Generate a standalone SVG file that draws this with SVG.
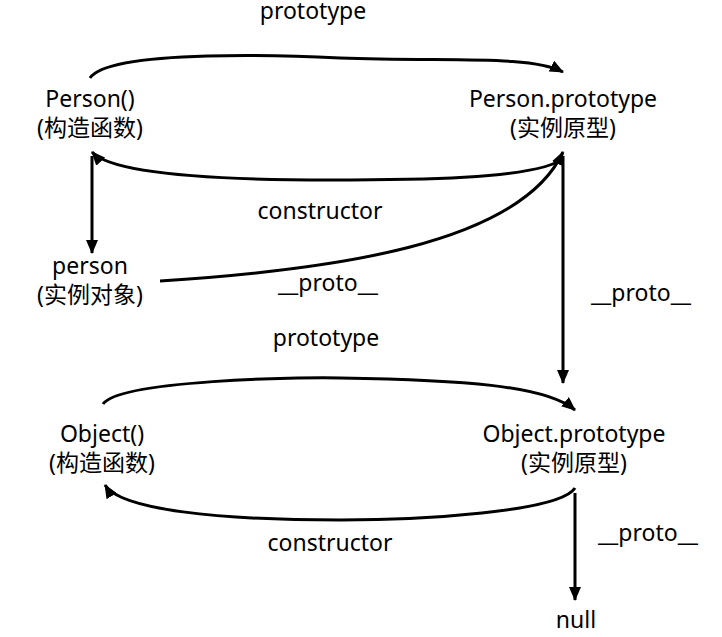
<svg xmlns="http://www.w3.org/2000/svg" width="722" height="637" viewBox="0 0 722 637">
<style>
text{font-family:"Noto Sans","Noto Sans CJK SC",sans-serif;font-size:23px;fill:#000;text-anchor:middle}
.c{fill:none;stroke:#000;stroke-width:3}
</style>
<defs>
<marker id="ah" markerWidth="14" markerHeight="12" viewBox="0 0 14 12" refX="13" refY="6" orient="auto" markerUnits="userSpaceOnUse">
<path d="M0,0 L14,6 L0,12 z" fill="#000"/>
</marker>
</defs>
<rect width="722" height="637" fill="#fff"/>
<g id="connectors">
<path class="c" d="M90,78 C110,48 300,56 340,58 C450,62 530,55 563,72" marker-end="url(#ah)"/>
<path class="c" d="M563,158 C540,180 400,180 330,180 C200,180 110,172 92,152" marker-end="url(#ah)"/>
<path class="c" d="M92,156 L92,253" marker-end="url(#ah)"/>
<path class="c" d="M160,281 C330,270 520,245 563,152" marker-end="url(#ah)"/>
<path class="c" d="M563,156 L563,383" marker-end="url(#ah)"/>
<path class="c" d="M103,404 C120,380 300,377 340,378 C460,380 545,385 575,410" marker-end="url(#ah)"/>
<path class="c" d="M575,488 C560,512 420,520 340,520 C220,520 120,510 105,485" marker-end="url(#ah)"/>
<path class="c" d="M575,493 L575,600" marker-end="url(#ah)"/>
</g>
<g id="labels">
<text x="313" y="19">prototype</text>
<text x="320" y="219">constructor</text>
<text x="328" y="291">__proto__</text>
<text x="641" y="301">__proto__</text>
<text x="326" y="346">prototype</text>
<text x="330" y="551">constructor</text>
<text x="648" y="541">__proto__</text>
</g>
<g id="person-fn"><text x="90" y="107">Person()</text><text x="90" y="136">(构造函数)</text></g>
<g id="person-proto"><text x="563" y="107">Person.prototype</text><text x="563" y="136">(实例原型)</text></g>
<g id="person-obj"><text x="90" y="274">person</text><text x="90" y="303">(实例对象)</text></g>
<g id="object-fn"><text x="102" y="442">Object()</text><text x="102" y="471">(构造函数)</text></g>
<g id="object-proto"><text x="574" y="442">Object.prototype</text><text x="574" y="471">(实例原型)</text></g>
<g id="null"><text x="576" y="628">null</text></g>
</svg>
